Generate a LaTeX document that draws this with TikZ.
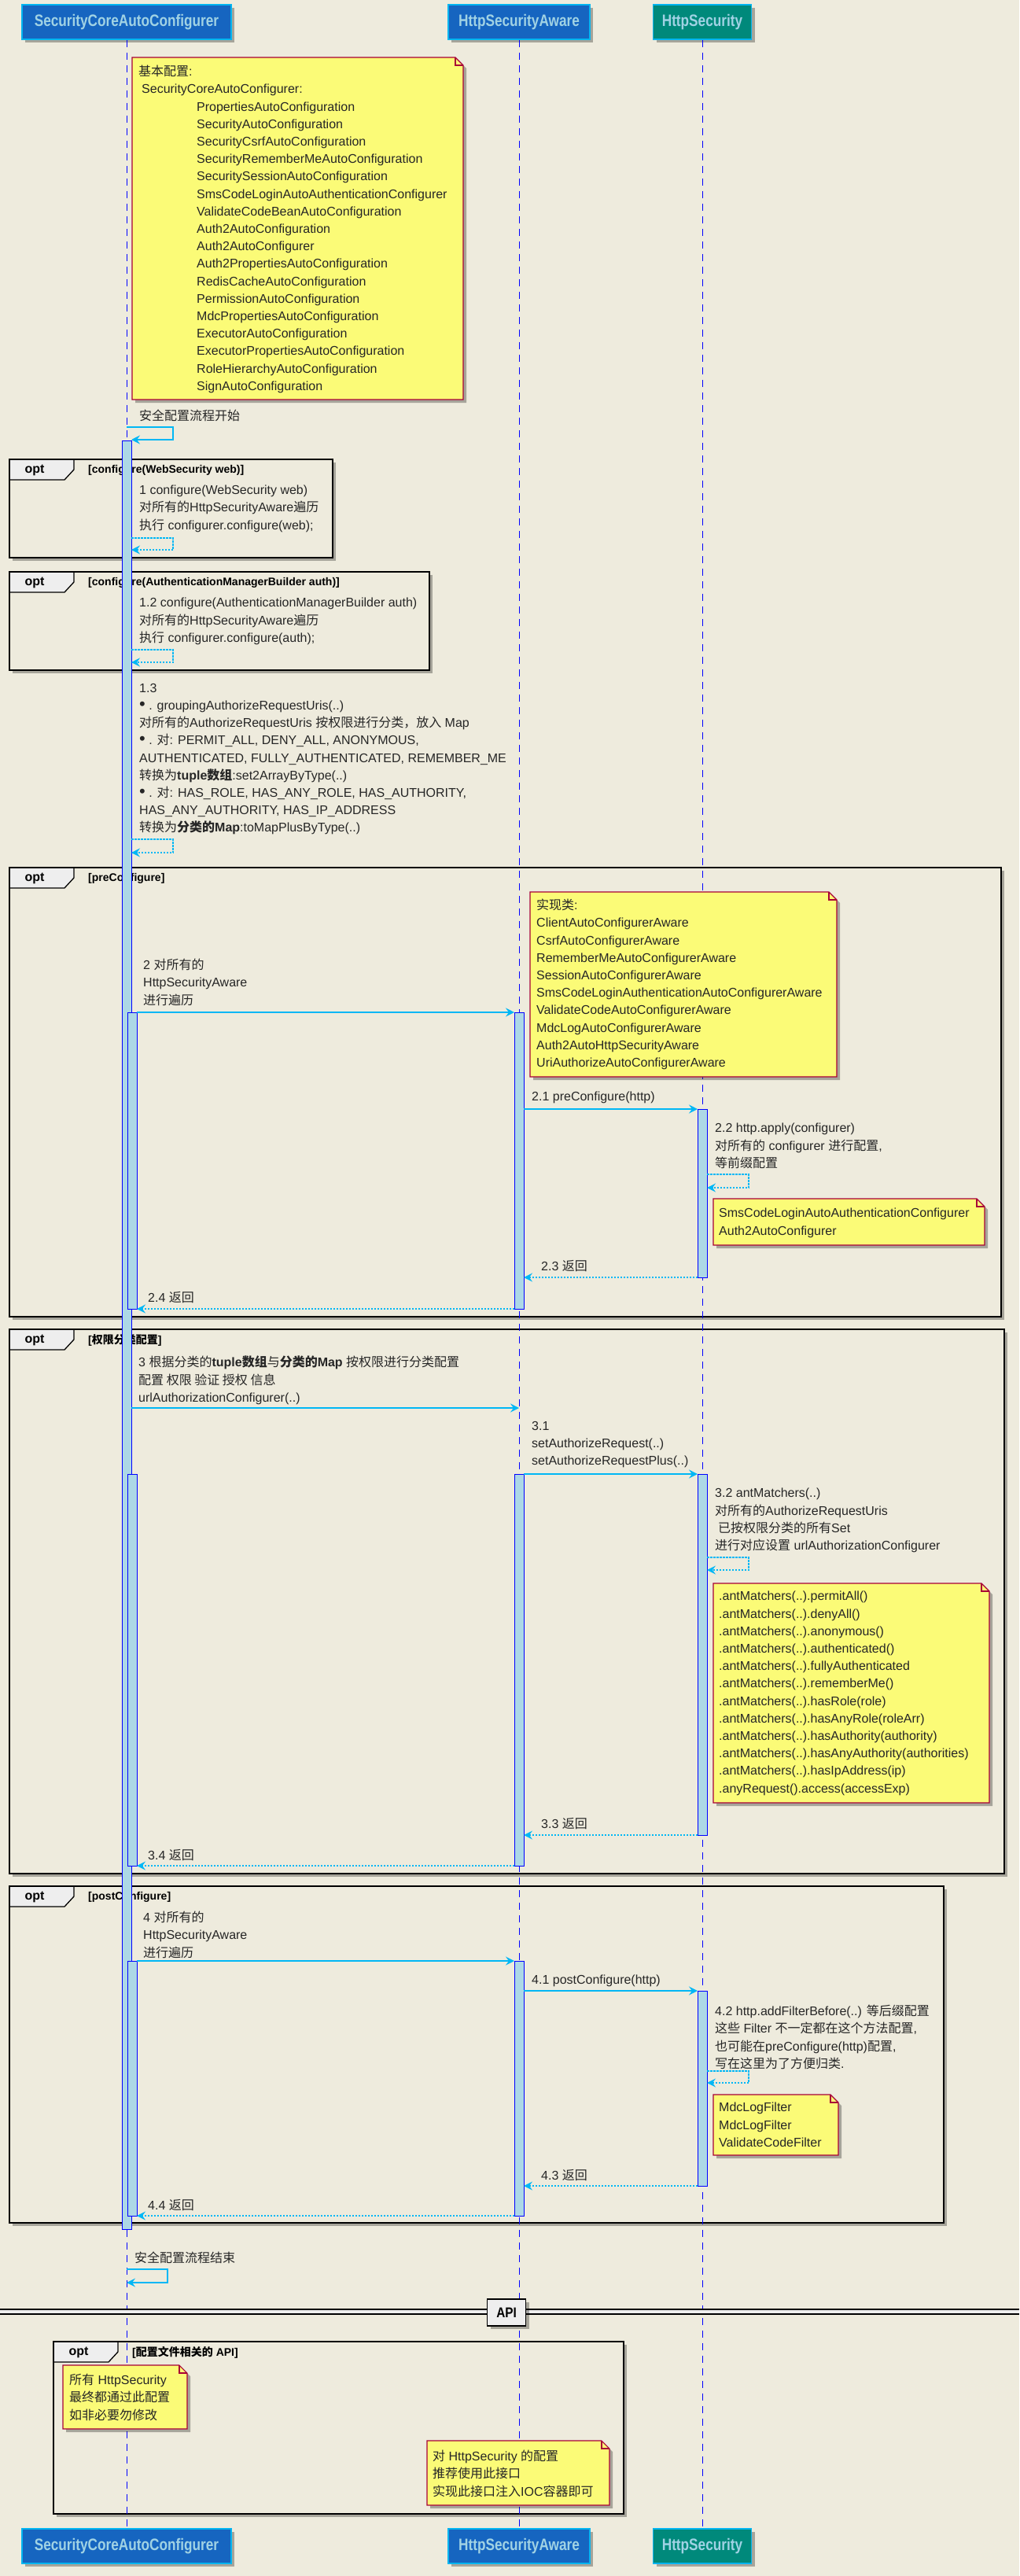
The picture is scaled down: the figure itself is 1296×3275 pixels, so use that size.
\documentclass[tikz,border=0pt]{standalone}
\usepackage{graphicx}
\usepackage{fontspec}
\setmainfont{Liberation Sans}
\newfontfamily\zhfont{Noto Sans CJK SC}
\usetikzlibrary{arrows.meta,shadows}

\definecolor{bgpaper}{RGB}{238,235,221}
\definecolor{partblue}{RGB}{22,101,192}
\definecolor{partteal}{RGB}{0,137,123}
\definecolor{partedge}{RGB}{3,181,240}
\definecolor{parttext}{RGB}{160,210,228}
\definecolor{msgblue}{RGB}{0,183,245}
\definecolor{notefill}{RGB}{251,251,119}
\definecolor{noteedge}{RGB}{168,0,54}
\definecolor{barfill}{RGB}{173,216,230}
\definecolor{tabfill}{RGB}{238,238,238}

\pgfdeclarelayer{background}
\pgfsetlayers{background,main}

\tikzset{
    softshadow/.style={drop shadow={shadow xshift=4pt, shadow yshift=-4pt, opacity=0.3, fill=black}},
    participant/.style={draw=partedge, line width=1.6pt, fill=partblue, text=parttext,
        minimum height=44pt, inner sep=0pt, softshadow},
    lifeline/.style={blue, line width=0.9pt, dash pattern=on 9pt off 7pt},
    actbar/.style={draw=blue, fill=barfill, line width=1pt},
    call/.style={draw=msgblue, line width=1.3pt, -{Stealth[length=11pt, width=11pt, inset=4pt]}},
    reply/.style={call, dash pattern=on 2.5pt off 1.5pt},
    msg/.style={anchor=north west, inner sep=0pt, align=left, text=black!85,
        font=\fontsize{16}{22.2}\selectfont},
    optshade/.style={fill=bgpaper, softshadow},
    optbox/.style={draw=black, line width=2.6pt},
    opttab/.style={draw=black, line width=1.3pt, fill=tabfill},
    optlabel/.style={inner sep=0pt, font=\fontsize{16}{18}\selectfont\bfseries},
    guard/.style={anchor=west, inner sep=0pt, font=\fontsize{14}{16}\selectfont\bfseries},
    notebody/.style={draw=noteedge, line width=1.1pt, fill=notefill, softshadow},
    notefold/.style={draw=noteedge, line width=1.1pt},
    apibox/.style={draw=black, line width=1.6pt, fill=tabfill, minimum width=49pt,
        minimum height=34pt, inner sep=0pt, font=\fontsize{18}{20}\selectfont\bfseries, softshadow},
}

% participant title
\newcommand{\partlabel}[1]{\scalebox{0.82}[1]{\fontsize{21}{24}\selectfont\bfseries #1}}
% list bullet
\newcommand{\dotmark}{{\fontsize{22}{22.2}\selectfont\textbullet}}

% opt frame: name, x1, y1, x2, y2, guard
\newcommand{\optframe}[6]{%
    \begin{pgfonlayer}{background}
        \fill[optshade] (#2,#3) rectangle (#4,#5);
        \draw[opttab] (#2,#3) -- (#2+82,#3) -- (#2+82,#3+13) -- (#2+70,#3+26) -- (#2,#3+26) -- cycle;
        \draw[optbox] (#2,#3) rectangle (#4,#5);
    \end{pgfonlayer}
    \node[optlabel] (#1opt) at (#2+32,#3+14) {opt};
    \node[guard] (#1guard) at (#2+100,#3+14) {#6};
}

% note with folded corner: x1, y1, x2, y2
\newcommand{\notebox}[4]{%
    \draw[notebody] (#1,#2) -- (#3-10,#2) -- (#3,#2+10) -- (#3,#4) -- (#1,#4) -- cycle;
    \draw[notefold] (#3-10,#2) -- (#3-10,#2+10) -- (#3,#2+10);
}

\begin{document}
\begin{tikzpicture}[x=1pt, y=-1pt]

    % Paper
    \begin{pgfonlayer}{background}
        \fill[bgpaper] (0,0) rectangle (1296,3275);
    \end{pgfonlayer}
    \useasboundingbox (0,0) rectangle (1296,3275);

    % Frames
    \optframe{fweb}{12}{584}{423}{709}{[configure(WebSecurity web)]}
    \optframe{fauth}{12}{727}{546}{852}{[configure(AuthenticationManagerBuilder auth)]}
    \optframe{fpre}{12}{1103}{1273}{1674}{[preConfigure]}
    \optframe{furl}{12}{1690}{1277}{2382}{[{\zhfont 权限分类配置}]}
    \optframe{fpost}{12}{2398}{1200}{2826}{[postConfigure]}
    \optframe{fapi}{68}{2977}{793}{3196}{[{\zhfont 配置文件相关的} API]}

    % Participants
    \node[participant, minimum width=266pt] (scacTop) at (161,28) {\partlabel{SecurityCoreAutoConfigurer}};
    \node[participant, minimum width=180pt] (hsaTop) at (660,28) {\partlabel{HttpSecurityAware}};
    \node[participant, fill=partteal, minimum width=125pt] (hsTop) at (893,28) {\partlabel{HttpSecurity}};
    \node[participant, minimum width=266pt] (scacBot) at (161,3237) {\partlabel{SecurityCoreAutoConfigurer}};
    \node[participant, minimum width=180pt] (hsaBot) at (660,3237) {\partlabel{HttpSecurityAware}};
    \node[participant, fill=partteal, minimum width=125pt] (hsBot) at (893,3237) {\partlabel{HttpSecurity}};

    % Lifelines
    \foreach \p in {scac,hsa,hs}
        \draw[lifeline] (\p Top.south) -- (\p Bot.north);

    % API divider
    \fill[tabfill] (0,2936) rectangle (1296,2942);
    \draw[line width=1.2pt] (0,2936) -- (1296,2936) (0,2942) -- (1296,2942);
    \node[apibox] (api) at (644,2940) {\scalebox{0.85}[1]{API}};

    % Activation bars
    \draw[actbar] (155,560) rectangle (167,2834);
    \foreach \ya/\yb in {1287/1664, 1874/2372, 2493/2817} {
        \draw[actbar] (162,\ya) rectangle (174,\yb);
        \draw[actbar] (654,\ya) rectangle (666,\yb);
    }
    \foreach \ya/\yb in {1410/1624, 1874/2333, 2531/2779}
        \draw[actbar] (887,\ya) rectangle (899,\yb);

    % Self messages
    \coordinate (st1) at (161,543);
    \coordinate (st2) at (167,559);
    \draw[call] (st1) -- ++(59,0) |- (st2);
    \coordinate (en1) at (161,2885);
    \coordinate (en2) at (161,2902);
    \draw[call] (en1) -- ++(52,0) |- (en2);
    \foreach \n/\x/\ya/\yb in {r1/167/684/699, r12/167/826/842, r13/167/1067/1084,
                               r22/899/1493/1510, r32/899/1980/1996, r42/899/2633/2648} {
        \coordinate (\n a) at (\x,\ya);
        \coordinate (\n b) at (\x,\yb);
        \draw[reply] (\n a) -- ++(53,0) |- (\n b);
    }

    % Calls
    \foreach \n/\xa/\xb/\y in {m2/174/654/1287, m21/666/887/1410, m3/167/660/1790,
                               m31/666/887/1874, m4/174/654/2493, m41/666/887/2531} {
        \coordinate (\n a) at (\xa,\y);
        \coordinate (\n b) at (\xb,\y);
        \draw[call] (\n a) -- (\n b);
    }

    % Returns
    \foreach \n/\xa/\xb/\y in {m23/887/666/1624, m24/654/174/1664, m33/887/666/2333,
                               m34/654/174/2372, m43/887/666/2779, m44/654/174/2817} {
        \coordinate (\n a) at (\xa,\y);
        \coordinate (\n b) at (\xb,\y);
        \draw[reply] (\n a) -- (\n b);
    }

    % Notes
    \notebox{168}{73}{589}{508}
    \notebox{674}{1134}{1064}{1369}
    \notebox{907}{1524}{1252}{1583}
    \notebox{907}{2013}{1258}{2292}
    \notebox{907}{2663}{1066}{2740}
    \notebox{80}{3007}{238}{3088}
    \notebox{543}{3103}{775}{3185}

    \node[msg] (n1) at (176,83) {{\zhfont 基本配置}:\\
        \hspace*{4pt}SecurityCoreAutoConfigurer:\\
        \hspace*{74pt}PropertiesAutoConfiguration\\
        \hspace*{74pt}SecurityAutoConfiguration\\
        \hspace*{74pt}SecurityCsrfAutoConfiguration\\
        \hspace*{74pt}SecurityRememberMeAutoConfiguration\\
        \hspace*{74pt}SecuritySessionAutoConfiguration\\
        \hspace*{74pt}SmsCodeLoginAutoAuthenticationConfigurer\\
        \hspace*{74pt}ValidateCodeBeanAutoConfiguration\\
        \hspace*{74pt}Auth2AutoConfiguration\\
        \hspace*{74pt}Auth2AutoConfigurer\\
        \hspace*{74pt}Auth2PropertiesAutoConfiguration\\
        \hspace*{74pt}RedisCacheAutoConfiguration\\
        \hspace*{74pt}PermissionAutoConfiguration\\
        \hspace*{74pt}MdcPropertiesAutoConfiguration\\
        \hspace*{74pt}ExecutorAutoConfiguration\\
        \hspace*{74pt}ExecutorPropertiesAutoConfiguration\\
        \hspace*{74pt}RoleHierarchyAutoConfiguration\\
        \hspace*{74pt}SignAutoConfiguration};
    \node[msg] (n2) at (682,1143) {{\zhfont 实现类}:\\ClientAutoConfigurerAware\\CsrfAutoConfigurerAware\\
        RememberMeAutoConfigurerAware\\SessionAutoConfigurerAware\\
        SmsCodeLoginAuthenticationAutoConfigurerAware\\ValidateCodeAutoConfigurerAware\\
        MdcLogAutoConfigurerAware\\Auth2AutoHttpSecurityAware\\UriAuthorizeAutoConfigurerAware};
    \node[msg] (n3) at (914,1536) {SmsCodeLoginAutoAuthenticationConfigurer\\Auth2AutoConfigurer};
    \node[msg] (n4) at (914,2023) {.antMatchers(..).permitAll()\\.antMatchers(..).denyAll()\\
        .antMatchers(..).anonymous()\\.antMatchers(..).authenticated()\\
        .antMatchers(..).fullyAuthenticated\\.antMatchers(..).rememberMe()\\
        .antMatchers(..).hasRole(role)\\.antMatchers(..).hasAnyRole(roleArr)\\
        .antMatchers(..).hasAuthority(authority)\\.antMatchers(..).hasAnyAuthority(authorities)\\
        .antMatchers(..).hasIpAddress(ip)\\.anyRequest().access(accessExp)};
    \node[msg] (n5) at (914,2673) {MdcLogFilter\\MdcLogFilter\\ValidateCodeFilter};
    \node[msg] (n6) at (88,3018) {{\zhfont 所有} HttpSecurity\\{\zhfont 最终都通过此配置}\\{\zhfont 如非必要勿修改}};
    \node[msg] (n7) at (550,3115) {{\zhfont 对} HttpSecurity {\zhfont 的配置}\\{\zhfont 推荐使用此接口}\\
        {\zhfont 实现此接口注入}IOC{\zhfont 容器即可}};

    % Message labels
    \node[msg] (tStart) at (177,521) {\zhfont 安全配置流程开始};
    \node[msg] (t1) at (177,617) {1 configure(WebSecurity web)\\
        {\zhfont 对所有的}HttpSecurityAware{\zhfont 遍历}\\{\zhfont 执行} configurer.configure(web);};
    \node[msg] (t12) at (177,760) {1.2 configure(AuthenticationManagerBuilder auth)\\
        {\zhfont 对所有的}HttpSecurityAware{\zhfont 遍历}\\{\zhfont 执行} configurer.configure(auth);};
    \node[msg] (t13) at (177,869) {1.3\\
        \dotmark\ . groupingAuthorizeRequestUris(..)\\
        {\zhfont 对所有的}AuthorizeRequestUris {\zhfont 按权限进行分类，放入} Map\\
        \dotmark\ . {\zhfont 对}: PERMIT\_ALL, DENY\_ALL, ANONYMOUS,\\
        AUTHENTICATED, FULLY\_AUTHENTICATED, REMEMBER\_ME\\
        {\zhfont 转换为}\textbf{tuple{\zhfont 数组}}:set2ArrayByType(..)\\
        \dotmark\ . {\zhfont 对}: HAS\_ROLE, HAS\_ANY\_ROLE, HAS\_AUTHORITY,\\
        HAS\_ANY\_AUTHORITY, HAS\_IP\_ADDRESS\\
        {\zhfont 转换为}\textbf{{\zhfont 分类的}Map}:toMapPlusByType(..)};
    \node[msg] (t2) at (182,1219) {2 {\zhfont 对所有的}\\HttpSecurityAware\\{\zhfont 进行遍历}};
    \node[msg] (t21) at (676,1388) {2.1 preConfigure(http)};
    \node[msg] (t22) at (909,1428) {2.2 http.apply(configurer)\\
        {\zhfont 对所有的} configurer {\zhfont 进行配置},\\{\zhfont 等前缀配置}};
    \node[msg] (t23) at (688,1602) {2.3 {\zhfont 返回}};
    \node[msg] (t24) at (188,1642) {2.4 {\zhfont 返回}};
    \node[msg] (t3) at (176,1724) {3 {\zhfont 根据分类的}\textbf{tuple{\zhfont 数组}}{\zhfont 与}\textbf{{\zhfont 分类的}Map} {\zhfont 按权限进行分类配置}\\
        {\zhfont 配置 权限 验证 授权 信息}\\urlAuthorizationConfigurer(..)};
    \node[msg] (t31) at (676,1807) {3.1\\setAuthorizeRequest(..)\\setAuthorizeRequestPlus(..)};
    \node[msg] (t32) at (909,1892) {3.2 antMatchers(..)\\{\zhfont 对所有的}AuthorizeRequestUris\\
        \hspace*{4pt}{\zhfont 已按权限分类的所有}Set\\{\zhfont 进行对应设置} urlAuthorizationConfigurer};
    \node[msg] (t33) at (688,2311) {3.3 {\zhfont 返回}};
    \node[msg] (t34) at (188,2351) {3.4 {\zhfont 返回}};
    \node[msg] (t4) at (182,2430) {4 {\zhfont 对所有的}\\HttpSecurityAware\\{\zhfont 进行遍历}};
    \node[msg] (t41) at (676,2511) {4.1 postConfigure(http)};
    \node[msg] (t42) at (909,2549) {4.2 http.addFilterBefore(..) {\zhfont 等后缀配置}\\
        {\zhfont 这些} Filter {\zhfont 不一定都在这个方法配置},\\
        {\zhfont 也可能在}preConfigure(http){\zhfont 配置},\\{\zhfont 写在这里为了方便归类}.};
    \node[msg] (t43) at (688,2758) {4.3 {\zhfont 返回}};
    \node[msg] (t44) at (188,2796) {4.4 {\zhfont 返回}};
    \node[msg] (tEnd) at (171,2863) {\zhfont 安全配置流程结束};

\end{tikzpicture}
\end{document}
